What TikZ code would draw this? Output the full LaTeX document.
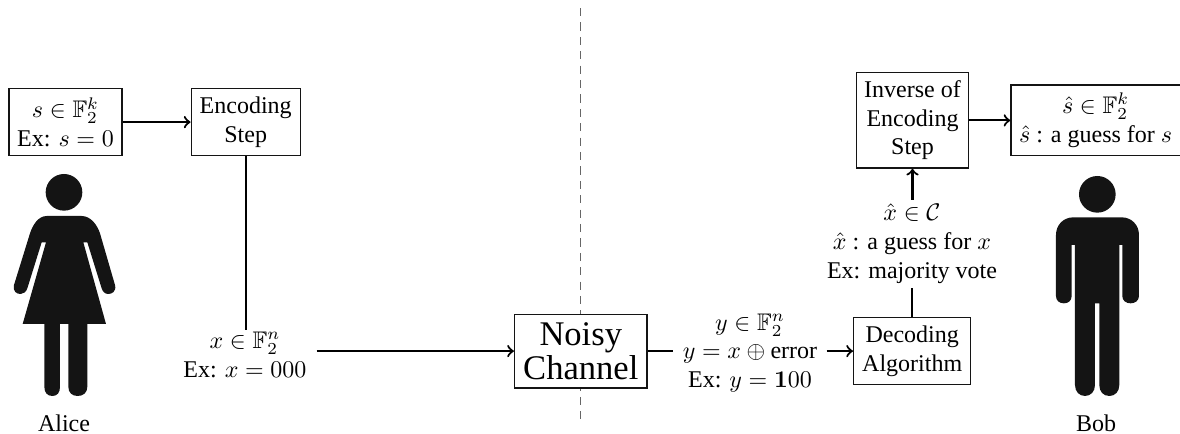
\documentclass[tikz,border=0pt]{standalone}
\usepackage{amssymb}
\usepackage[no-math]{fontspec}
\setmainfont{Liberation Serif}
\usetikzlibrary{calc}
\definecolor{ink}{HTML}{141414}
\tikzset{
  px/.style={x=0.416667pt,y=-0.416667pt},
  zoomed/.style={x=0.138889pt,y=-0.138889pt},
  stepbox/.style={draw=ink,line width=0.55pt,fill=white,align=center,inner sep=0pt},
  lbl/.style={align=center,inner sep=0pt},
  conn/.style={draw=black,line width=0.9pt},
  arr/.style={conn,-{to}},
  figure/.style={fill=ink,draw=none},
  split/.style={draw=black!60,line width=0.6pt,dash pattern=on 3.4pt off 2.6pt}
}
\begin{document}
\begin{tikzpicture}[px]
\useasboundingbox (0,0) rectangle (1180,434);
% dashed separator
\coordinate (top) at (580.7,8);
\coordinate (bot) at (580.7,421);
\draw[split] (top) -- (bot);
% boxes
\node[stepbox,minimum width=47.1pt,minimum height=27.9pt] (s) at (65.5,122.1) {$s\in\mathbb{F}_2^k$\\Ex: $s=0$};
\node[stepbox,minimum width=45.4pt,minimum height=27.9pt] (enc) at (245.7,122.1) {Encoding\\Step};
\node[stepbox,minimum width=55.2pt,minimum height=30.7pt] (noisy) at (580.8,351.1) {\fontsize{14.4}{13.75}\selectfont Noisy\\\fontsize{14.4}{13.75}\selectfont Channel};
\node[stepbox,minimum width=48.8pt,minimum height=27.9pt] (dec) at (912.2,351.1) {Decoding\\Algorithm};
\node[stepbox,minimum width=46.8pt,minimum height=39.9pt] (inv) at (912.5,120.2) {Inverse of\\Encoding\\Step};
\node[stepbox,minimum width=70.5pt,minimum height=29.4pt] (shat) at (1095.6,120.4) {$\hat{s}\in\mathbb{F}_2^k$\\$\hat{s}$ : a guess for $s$};
% text-only nodes
\node[lbl,minimum width=59.2pt] (xt) at (245,355) {$x\in\mathbb{F}_2^n$\\Ex: $x=000$};
\node[lbl,minimum width=63.4pt] (yt) at (750,353) {$y\in\mathbb{F}_2^n$\\$y=x\oplus\mbox{error}$\\Ex: $y=\mathbf{1}00$};
\node[lbl] (xh) at (912,244) {$\hat{x}\in\mathcal{C}$\\$\hat{x}$ : a guess for $x$\\Ex: majority vote};
\node[lbl] (alice) at (64,423) {Alice};
\node[lbl] (bob) at (1096,423) {Bob};
% connectors
\draw[arr] (s.east) -- (enc.west);
\draw[conn] (enc.south) -- ($(enc.south |- xt.north)+(0,-2)$);
\draw[arr] (noisy.west -| xt.east) -- (noisy.west);
\draw[conn] (noisy.east) -- (noisy.east -| yt.west);
\draw[arr] (dec.west -| yt.east) -- (dec.west);
\draw[conn] (dec.north) -- ($(dec.north |- xh.south)+(0,4)$);
\draw[arr] ($(inv.south |- xh.north)+(0,-4)$) -- (inv.south);
\draw[arr] (inv.east |- shat.west) -- (shat.west);
% Alice
\begin{scope}[shift={(0,70)},zoomed]
\fill[figure] (192,367) circle (55);
\fill[figure] (140,438) -- (245,438)
  .. controls (272,438) and (292,465) .. (300,490)
  -- (345,645) .. controls (350,665) and (335,672) .. (325,672)
  .. controls (315,672) and (308,665) .. (305,655)
  -- (262,517) -- (250,517) -- (318,762) -- (262,762) -- (262,950)
  .. controls (262,968) and (250,978) .. (233,978)
  .. controls (216,978) and (205,968) .. (205,950)
  -- (205,762) -- (180,762) -- (180,950)
  .. controls (180,968) and (172,978) .. (157,978)
  .. controls (142,978) and (133,968) .. (133,950)
  -- (133,762) -- (68,762) -- (138,517) -- (125,517) -- (82,655)
  .. controls (78,665) and (72,672) .. (62,672)
  .. controls (50,672) and (38,665) .. (42,645)
  -- (90,490) .. controls (98,465) and (115,438) .. (140,438) -- cycle;
\end{scope}
% Bob
\begin{scope}[shift={(840,60)},zoomed]
\fill[figure] (772,403) circle (55);
\fill[figure] (700,472) -- (845,472)
  .. controls (875,472) and (897,495) .. (897,525)
  -- (897,708) .. controls (897,722) and (885,730) .. (872,730)
  .. controls (858,730) and (847,722) .. (847,708)
  -- (847,555) -- (838,555) -- (838,975)
  .. controls (838,995) and (825,1008) .. (808,1008)
  .. controls (790,1008) and (778,995) .. (778,975)
  -- (778,730) -- (765,730) -- (765,975)
  .. controls (765,995) and (752,1008) .. (735,1008)
  .. controls (718,1008) and (705,995) .. (705,975)
  -- (705,555) -- (695,555) -- (695,708)
  .. controls (695,722) and (685,730) .. (672,730)
  .. controls (658,730) and (648,722) .. (648,708)
  -- (648,525) .. controls (648,495) and (670,472) .. (700,472) -- cycle;
\end{scope}
\end{tikzpicture}
\end{document}
